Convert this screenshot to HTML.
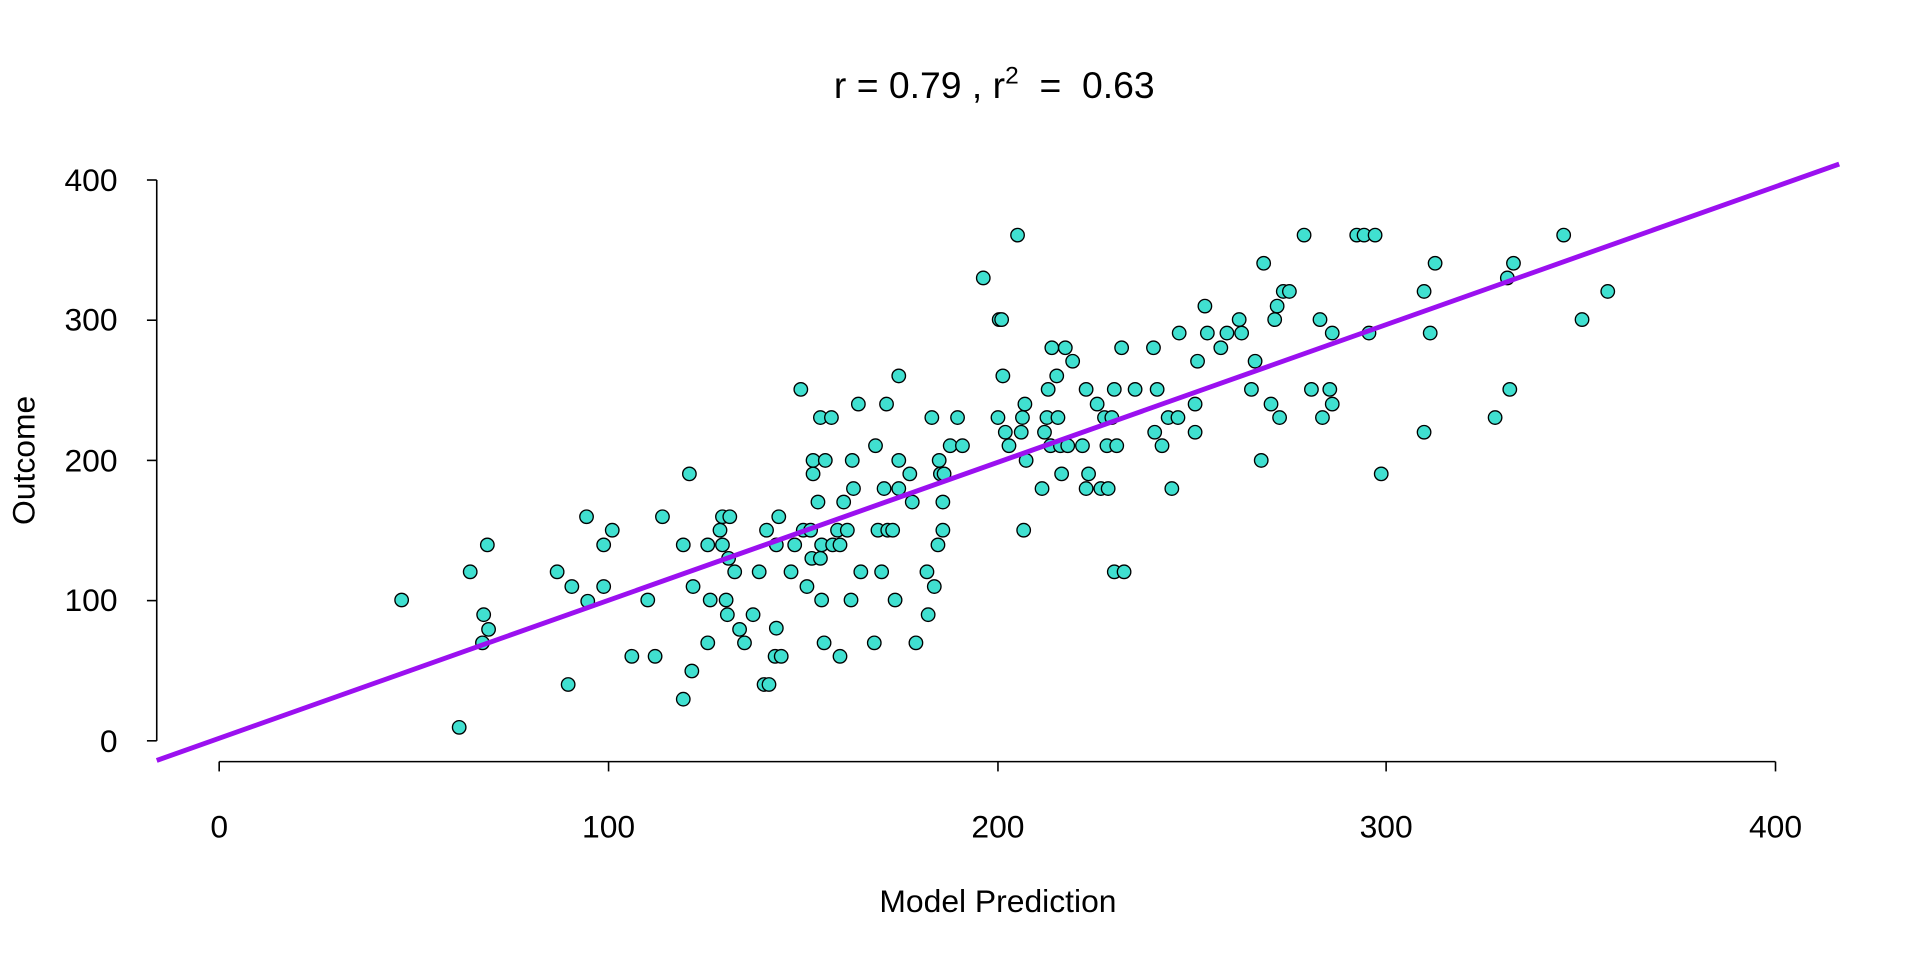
<!DOCTYPE html>
<html><head><meta charset="utf-8"><style>html,body{margin:0;padding:0;background:#fff}svg{display:block}text{white-space:pre}</style></head>
<body>
<svg width="1920" height="960" viewBox="0 0 1568 784" xmlns="http://www.w3.org/2000/svg" font-family="Liberation Sans, sans-serif" xml:space="preserve">
<rect width="1568" height="784" fill="#fff"/>
<text x="812" y="80" font-size="30.5" text-anchor="middle">r = 0.79 , r<tspan font-size="20" dy="-12">2</tspan><tspan dy="12">  =  0.63</tspan></text>
<g stroke="#000" stroke-width="1.3" fill="none">
<line x1="128" y1="147" x2="128" y2="605"/>
<line x1="120" y1="147" x2="128" y2="147"/><line x1="120" y1="261.5" x2="128" y2="261.5"/><line x1="120" y1="376" x2="128" y2="376"/><line x1="120" y1="490.5" x2="128" y2="490.5"/><line x1="120" y1="605" x2="128" y2="605"/>
<line x1="179" y1="622" x2="1450" y2="622"/>
<line x1="179" y1="622" x2="179" y2="630"/><line x1="497" y1="622" x2="497" y2="630"/><line x1="815" y1="622" x2="815" y2="630"/><line x1="1132" y1="622" x2="1132" y2="630"/><line x1="1450" y1="622" x2="1450" y2="630"/>
</g>
<g font-size="26" text-anchor="end">
<text x="96" y="156">400</text><text x="96" y="270">300</text><text x="96" y="385">200</text><text x="96" y="499">100</text><text x="96" y="614">0</text>
</g>
<g font-size="26" text-anchor="middle">
<text x="179" y="684">0</text><text x="497" y="684">100</text><text x="815" y="684">200</text><text x="1132" y="684">300</text><text x="1450" y="684">400</text>
<text x="815" y="745">Model Prediction</text>
<text transform="translate(28,376) rotate(-90)">Outcome</text>
</g>
<g fill="#40E0D0" stroke="#000" stroke-width="1.1">
<circle cx="328" cy="490" r="5.5"/><circle cx="375" cy="594" r="5.5"/><circle cx="384" cy="467" r="5.5"/><circle cx="398" cy="445" r="5.5"/><circle cx="395" cy="502" r="5.5"/><circle cx="399" cy="514" r="5.5"/><circle cx="394" cy="525" r="5.5"/><circle cx="455" cy="467" r="5.5"/><circle cx="464" cy="559" r="5.5"/><circle cx="467" cy="479" r="5.5"/><circle cx="479" cy="422" r="5.5"/><circle cx="480" cy="491" r="5.5"/><circle cx="493" cy="445" r="5.5"/><circle cx="493" cy="479" r="5.5"/><circle cx="500" cy="433" r="5.5"/><circle cx="516" cy="536" r="5.5"/><circle cx="529" cy="490" r="5.5"/><circle cx="535" cy="536" r="5.5"/><circle cx="541" cy="422" r="5.5"/><circle cx="558" cy="445" r="5.5"/><circle cx="563" cy="387" r="5.5"/><circle cx="558" cy="571" r="5.5"/><circle cx="565" cy="548" r="5.5"/><circle cx="566" cy="479" r="5.5"/><circle cx="578" cy="445" r="5.5"/><circle cx="578" cy="525" r="5.5"/><circle cx="580" cy="490" r="5.5"/><circle cx="588" cy="433" r="5.5"/><circle cx="590" cy="445" r="5.5"/><circle cx="590" cy="422" r="5.5"/><circle cx="596" cy="422" r="5.5"/><circle cx="593" cy="490" r="5.5"/><circle cx="595" cy="456" r="5.5"/><circle cx="594" cy="502" r="5.5"/><circle cx="600" cy="467" r="5.5"/><circle cx="604" cy="514" r="5.5"/><circle cx="608" cy="525" r="5.5"/><circle cx="615" cy="502" r="5.5"/><circle cx="620" cy="467" r="5.5"/><circle cx="624" cy="559" r="5.5"/><circle cx="628" cy="559" r="5.5"/><circle cx="626" cy="433" r="5.5"/><circle cx="634" cy="445" r="5.5"/><circle cx="636" cy="422" r="5.5"/><circle cx="634" cy="513" r="5.5"/><circle cx="633" cy="536" r="5.5"/><circle cx="638" cy="536" r="5.5"/><circle cx="646" cy="467" r="5.5"/><circle cx="649" cy="445" r="5.5"/><circle cx="654" cy="318" r="5.5"/><circle cx="656" cy="433" r="5.5"/><circle cx="659" cy="479" r="5.5"/><circle cx="662" cy="433" r="5.5"/><circle cx="663" cy="456" r="5.5"/><circle cx="664" cy="376" r="5.5"/><circle cx="664" cy="387" r="5.5"/><circle cx="668" cy="410" r="5.5"/><circle cx="670" cy="341" r="5.5"/><circle cx="670" cy="456" r="5.5"/><circle cx="671" cy="445" r="5.5"/><circle cx="671" cy="490" r="5.5"/><circle cx="673" cy="525" r="5.5"/><circle cx="674" cy="376" r="5.5"/><circle cx="679" cy="341" r="5.5"/><circle cx="680" cy="445" r="5.5"/><circle cx="684" cy="433" r="5.5"/><circle cx="686" cy="445" r="5.5"/><circle cx="686" cy="536" r="5.5"/><circle cx="689" cy="410" r="5.5"/><circle cx="692" cy="433" r="5.5"/><circle cx="695" cy="490" r="5.5"/><circle cx="696" cy="376" r="5.5"/><circle cx="697" cy="399" r="5.5"/><circle cx="701" cy="330" r="5.5"/><circle cx="703" cy="467" r="5.5"/><circle cx="714" cy="525" r="5.5"/><circle cx="715" cy="364" r="5.5"/><circle cx="717" cy="433" r="5.5"/><circle cx="720" cy="467" r="5.5"/><circle cx="722" cy="399" r="5.5"/><circle cx="724" cy="330" r="5.5"/><circle cx="725" cy="433" r="5.5"/><circle cx="729" cy="433" r="5.5"/><circle cx="731" cy="490" r="5.5"/><circle cx="734" cy="376" r="5.5"/><circle cx="734" cy="399" r="5.5"/><circle cx="734" cy="307" r="5.5"/><circle cx="743" cy="387" r="5.5"/><circle cx="745" cy="410" r="5.5"/><circle cx="748" cy="525" r="5.5"/><circle cx="757" cy="467" r="5.5"/><circle cx="758" cy="502" r="5.5"/><circle cx="761" cy="341" r="5.5"/><circle cx="763" cy="479" r="5.5"/><circle cx="766" cy="445" r="5.5"/><circle cx="767" cy="376" r="5.5"/><circle cx="768" cy="387" r="5.5"/><circle cx="770" cy="410" r="5.5"/><circle cx="770" cy="433" r="5.5"/><circle cx="771" cy="387" r="5.5"/><circle cx="776" cy="364" r="5.5"/><circle cx="782" cy="341" r="5.5"/><circle cx="786" cy="364" r="5.5"/><circle cx="803" cy="227" r="5.5"/><circle cx="815" cy="341" r="5.5"/><circle cx="816" cy="261" r="5.5"/><circle cx="818" cy="261" r="5.5"/><circle cx="819" cy="307" r="5.5"/><circle cx="821" cy="353" r="5.5"/><circle cx="824" cy="364" r="5.5"/><circle cx="831" cy="192" r="5.5"/><circle cx="834" cy="353" r="5.5"/><circle cx="835" cy="341" r="5.5"/><circle cx="836" cy="433" r="5.5"/><circle cx="837" cy="330" r="5.5"/><circle cx="838" cy="376" r="5.5"/><circle cx="851" cy="399" r="5.5"/><circle cx="853" cy="353" r="5.5"/><circle cx="855" cy="341" r="5.5"/><circle cx="856" cy="318" r="5.5"/><circle cx="858" cy="364" r="5.5"/><circle cx="859" cy="284" r="5.5"/><circle cx="863" cy="307" r="5.5"/><circle cx="864" cy="341" r="5.5"/><circle cx="866" cy="364" r="5.5"/><circle cx="867" cy="387" r="5.5"/><circle cx="870" cy="284" r="5.5"/><circle cx="872" cy="364" r="5.5"/><circle cx="876" cy="295" r="5.5"/><circle cx="884" cy="364" r="5.5"/><circle cx="887" cy="318" r="5.5"/><circle cx="887" cy="399" r="5.5"/><circle cx="889" cy="387" r="5.5"/><circle cx="896" cy="330" r="5.5"/><circle cx="899" cy="399" r="5.5"/><circle cx="902" cy="341" r="5.5"/><circle cx="904" cy="364" r="5.5"/><circle cx="905" cy="399" r="5.5"/><circle cx="908" cy="341" r="5.5"/><circle cx="910" cy="318" r="5.5"/><circle cx="910" cy="467" r="5.5"/><circle cx="912" cy="364" r="5.5"/><circle cx="916" cy="284" r="5.5"/><circle cx="918" cy="467" r="5.5"/><circle cx="927" cy="318" r="5.5"/><circle cx="942" cy="284" r="5.5"/><circle cx="943" cy="353" r="5.5"/><circle cx="945" cy="318" r="5.5"/><circle cx="949" cy="364" r="5.5"/><circle cx="954" cy="341" r="5.5"/><circle cx="957" cy="399" r="5.5"/><circle cx="962" cy="341" r="5.5"/><circle cx="963" cy="272" r="5.5"/><circle cx="976" cy="353" r="5.5"/><circle cx="976" cy="330" r="5.5"/><circle cx="978" cy="295" r="5.5"/><circle cx="984" cy="250" r="5.5"/><circle cx="986" cy="272" r="5.5"/><circle cx="997" cy="284" r="5.5"/><circle cx="1002" cy="272" r="5.5"/><circle cx="1012" cy="261" r="5.5"/><circle cx="1014" cy="272" r="5.5"/><circle cx="1022" cy="318" r="5.5"/><circle cx="1025" cy="295" r="5.5"/><circle cx="1030" cy="376" r="5.5"/><circle cx="1032" cy="215" r="5.5"/><circle cx="1038" cy="330" r="5.5"/><circle cx="1041" cy="261" r="5.5"/><circle cx="1043" cy="250" r="5.5"/><circle cx="1045" cy="341" r="5.5"/><circle cx="1048" cy="238" r="5.5"/><circle cx="1053" cy="238" r="5.5"/><circle cx="1065" cy="192" r="5.5"/><circle cx="1071" cy="318" r="5.5"/><circle cx="1078" cy="261" r="5.5"/><circle cx="1080" cy="341" r="5.5"/><circle cx="1086" cy="318" r="5.5"/><circle cx="1088" cy="272" r="5.5"/><circle cx="1088" cy="330" r="5.5"/><circle cx="1108" cy="192" r="5.5"/><circle cx="1114" cy="192" r="5.5"/><circle cx="1123" cy="192" r="5.5"/><circle cx="1118" cy="272" r="5.5"/><circle cx="1128" cy="387" r="5.5"/><circle cx="1163" cy="238" r="5.5"/><circle cx="1163" cy="353" r="5.5"/><circle cx="1168" cy="272" r="5.5"/><circle cx="1172" cy="215" r="5.5"/><circle cx="1221" cy="341" r="5.5"/><circle cx="1231" cy="227" r="5.5"/><circle cx="1236" cy="215" r="5.5"/><circle cx="1233" cy="318" r="5.5"/><circle cx="1277" cy="192" r="5.5"/><circle cx="1292" cy="261" r="5.5"/><circle cx="1313" cy="238" r="5.5"/>
</g>
<line x1="128" y1="621" x2="1502" y2="134" stroke="#9B10F0" stroke-width="4"/>
</svg>
</body></html>
